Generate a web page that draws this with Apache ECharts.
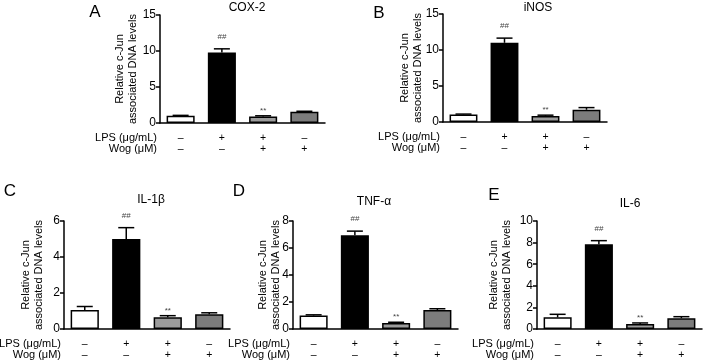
<!DOCTYPE html>
<html>
<head>
<meta charset="utf-8">
<script src="https://cdn.jsdelivr.net/npm/echarts@6/dist/echarts.min.js"></script>
<style>
html, body { margin: 0; padding: 0; background: #fff; }
#main { width: 704px; height: 362px; }
</style>
</head>
<body>
<div id="main"></div>
<script>
// treatment table under each panel
const groups = ["ctrl", "LPS", "LPS+Wog", "Wog"];
const lps = ["–", "+", "+", "–"];
const wog = ["–", "–", "+", "+"];
const marks = ["", "##", "**", ""];

// relative c-Jun associated DNA levels (mean, error)
const cox2 = [1.0, 9.8, 0.9, 1.55];
const cox2Err = [0.06, 0.5, 0.1, 0.08];
const inos = [1.05, 11.0, 0.85, 1.7];
const inosErr = [0.05, 0.65, 0.1, 0.3];
const il1b = [1.05, 5.0, 0.65, 0.82];
const il1bErr = [0.2, 0.63, 0.09, 0.08];
const tnfa = [1.0, 6.95, 0.45, 1.4];
const tnfaErr = [0.05, 0.3, 0.05, 0.1];
const il6 = [1.08, 7.84, 0.46, 1.0];
const il6Err = [0.28, 0.34, 0.1, 0.14];

const titles = ["COX-2", "iNOS", "IL-1β", "TNF-α", "IL-6"];
const letters = ["A", "B", "C", "D", "E"];
const yMax = [15, 15, 6, 8, 10];
const yStep = [5, 5, 2, 2, 2];

const values = [cox2, inos, il1b, tnfa, il6];
const errors = [cox2Err, inosErr, il1bErr, tnfaErr, il6Err];

// layout (pixels)
const boxes = [
    { left: 160, top: 15, width: 165, height: 108, gap: 20, title: [247, 8], letter: [95, 12] },
    { left: 443, top: 14, width: 164, height: 108, gap: 18, title: [538, 8], letter: [379, 13] },
    { left: 64, top: 221, width: 166, height: 108, gap: 18, title: [151, 200], letter: [10, 191] },
    { left: 293, top: 221, width: 165, height: 108, gap: 10, title: [374, 202], letter: [239, 191] },
    { left: 537, top: 221, width: 165, height: 108, gap: 23, title: [630, 204], letter: [494, 195] },
];
const barColors = ["#ffffff", "#000000", "#9c9c9c", "#7c7c7c"];
const font = "'Liberation Sans', Arial, sans-serif";

let dom = document.getElementById("main");
let myChart = echarts.init(dom, null, { renderer: "canvas" });

function errorItem(params, api) {
    let x = api.value(0), y = api.value(1), e = api.value(2);
    let base = api.coord([x, y]);
    let top = api.coord([x, y + e]);
    let mark = marks[params.dataIndex];
    let children = [
        { type: "line", shape: { x1: base[0], y1: base[1], x2: top[0], y2: top[1] },
          style: { stroke: "#000", lineWidth: 1.5 } },
        { type: "line", shape: { x1: top[0] - 8, y1: top[1], x2: top[0] + 8, y2: top[1] },
          style: { stroke: "#000", lineWidth: 1.5 } },
    ];
    if (mark) {
        children.push({
            type: "text", x: top[0], y: top[1] - (mark === "##" ? 12 : 5),
            style: { text: mark, fill: "#444", font: "8px " + font, align: "center", verticalAlign: "middle" },
        });
    }
    return { type: "group", children: children };
}

let grid = [], xAxis = [], yAxis = [], series = [], graphic = [];
boxes.forEach((b, k) => {
    grid.push({ left: b.left, top: b.top, width: b.width, height: b.height, outerBoundsMode: "none" });
    xAxis.push({
        type: "category", gridIndex: k, data: groups,
        axisLine: { lineStyle: { color: "#000", width: 1.5 } },
        axisTick: { alignWithLabel: true, length: 4, lineStyle: { color: "#000", width: 1.5 } },
        axisLabel: {
            interval: 0, margin: 9, color: "#000", fontSize: 10.5, lineHeight: 11.5, fontFamily: font,
            formatter: (v, i) => lps[i] + "\n" + wog[i],
        },
    });
    yAxis.push({
        type: "value", gridIndex: k, min: 0, max: yMax[k], interval: yStep[k],
        name: "Relative c-Jun\nassociated DNA levels", nameLocation: "middle", nameGap: b.gap,
        nameMoveOverlap: false,
        nameTextStyle: { color: "#000", fontSize: 11, lineHeight: 13.5, fontFamily: font },
        axisLine: { show: true, lineStyle: { color: "#000", width: 1.5 } },
        axisTick: { show: true, length: 4, lineStyle: { color: "#000", width: 1.5 } },
        axisLabel: { color: "#000", fontSize: 12, margin: 4, fontFamily: font },
        splitLine: { show: false },
    });
    series.push({
        type: "bar", xAxisIndex: k, yAxisIndex: k, barWidth: "68%",
        itemStyle: { borderColor: "#000", borderWidth: 1.5 },
        data: values[k].map((v, i) => ({ value: v, itemStyle: { color: barColors[i] } })),
    });
    series.push({
        type: "custom", xAxisIndex: k, yAxisIndex: k, z: 3,
        renderItem: errorItem,
        data: values[k].map((v, i) => [i, v, errors[k][i]]),
    });
    graphic.push({
        type: "text", x: b.title[0], y: b.title[1],
        style: { text: titles[k], fill: "#000", font: "12px " + font, align: "center", verticalAlign: "middle" },
    });
    graphic.push({
        type: "text", x: b.letter[0], y: b.letter[1],
        style: { text: letters[k], fill: "#000", font: "17px " + font, align: "center", verticalAlign: "middle" },
    });
    let bottom = b.top + b.height;
    graphic.push({
        type: "text", x: b.left - 3, y: bottom + 14.5,
        style: { text: "LPS (μg/mL)", fill: "#000", font: "11px " + font, align: "right", verticalAlign: "middle" },
    });
    graphic.push({
        type: "text", x: b.left - 3, y: bottom + 26,
        style: { text: "Wog (μM)", fill: "#000", font: "11px " + font, align: "right", verticalAlign: "middle" },
    });
});

let option = {
    animation: false,
    backgroundColor: "#fff",
    grid: grid,
    xAxis: xAxis,
    yAxis: yAxis,
    series: series,
    graphic: graphic,
};

if (option && typeof option === "object") {
    myChart.setOption(option);
}

window.addEventListener("resize", myChart.resize);
</script>
</body>
</html>
